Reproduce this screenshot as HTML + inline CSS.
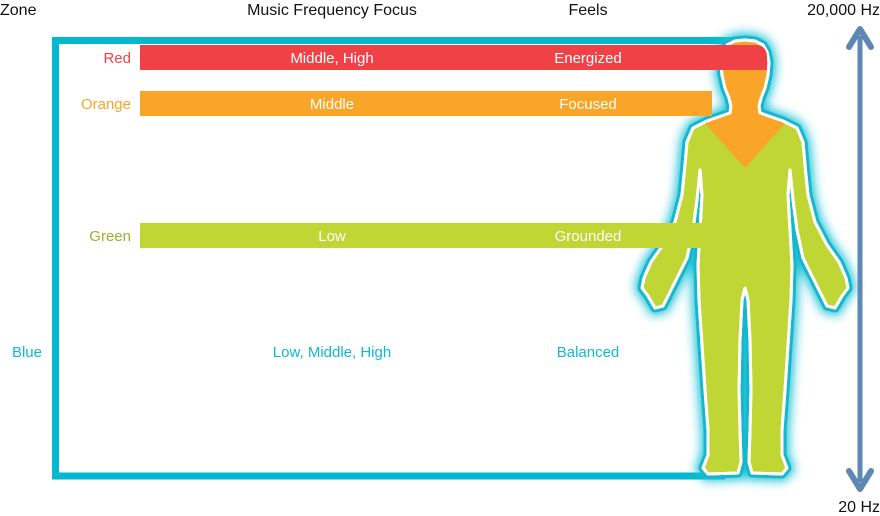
<!DOCTYPE html>
<html><head><meta charset="utf-8">
<style>
html,body{margin:0;padding:0;background:#fff;}
svg{display:block;font-family:"Liberation Sans",sans-serif;}
</style></head>
<body>
<svg id="chart" width="880" height="516" viewBox="0 0 880 516" xmlns="http://www.w3.org/2000/svg">
<defs>
<filter id="glow" x="-30%" y="-10%" width="160%" height="120%">
<feGaussianBlur stdDeviation="5"/>
</filter>
<clipPath id="bodyclip"><path id="bodypathc" d=""/></clipPath>
</defs>
<g id="headers">
<text x="0" y="15" font-size="16" fill="#111">Zone</text>
<text x="332" y="15" font-size="16" fill="#111" text-anchor="middle">Music Frequency Focus</text>
<text x="588" y="15" font-size="16" fill="#111" text-anchor="middle">Feels</text>
<text x="880" y="15" font-size="16" fill="#111" text-anchor="end">20,000 Hz</text>
<text x="880" y="512" font-size="16" fill="#111" text-anchor="end">20 Hz</text>
</g>
<path d="M738,40.5 H55.5 V476 H725" fill="none" stroke="#03b8cf" stroke-width="7"/>
<g id="body"></g>
<g id="rows"></g>
<g>
<line x1="860" y1="36" x2="860" y2="482" stroke="#5f87b4" stroke-width="5"/>
<path d="M849,47 L860,29 L871,47" fill="none" stroke="#5f87b4" stroke-width="6" stroke-linejoin="round" stroke-linecap="round"/>
<path d="M849,471 L860,489 L871,471" fill="none" stroke="#5f87b4" stroke-width="6" stroke-linejoin="round" stroke-linecap="round"/>
</g>
</svg>
<script>
const zones = ["Red","Orange","Green","Blue"];
const focus = ["Middle, High","Middle","Low","Low, Middle, High"];
const feels = ["Energized","Focused","Grounded","Balanced"];
const rowY = [58,104,236,352];
const colors = ["#ef4146","#f9a527","#c0d634","#0fb9cf"];
const labelColors = ["#ef4146","#f9a527","#9bb12a","#0fb9cf"];
const hasBar = [true,true,true,false];
const barEnd = [767,712,708,0];

const NS="http://www.w3.org/2000/svg";
function mk(t,a,p){const e=document.createElementNS(NS,t);for(const k in a)e.setAttribute(k,a[k]);p.appendChild(e);return e;}

const half=[[0,40],[10,41],[18,45],[22,52],[24,62],[23,75],[20,88],[16,98],[14,106],[15,113],[38,121],[52,128],[58,142],[60,165],[63,195],[70,222],[82,245],[94,262],[101,278],[103,288],[97,296],[90,308],[82,306],[76,294],[70,282],[58,258],[52,230],[48,200],[45,170],[43,195],[45,230],[47,265],[46,300],[43,345],[40,390],[37,430],[37,455],[42,468],[37,474],[7,473],[4,462],[5,430],[6,390],[5,340],[3,300],[0,288]];
const cx=745;
let pts=half.map(p=>[cx+p[0],p[1]]);
let left=half.slice().reverse().map(p=>[cx-p[0],p[1]]);
const all=pts.concat(left);
const d="M"+all.map(p=>p[0]+","+p[1]).join(" L")+" Z";
document.getElementById('bodypathc').setAttribute('d',d);
const bg=document.getElementById('body');
const glow=mk('path',{d:d,fill:"none",stroke:"#1cc3d8",'stroke-width':14,filter:"url(#glow)"},bg);


const outline=mk('path',{d:d,fill:"#16b7cd",stroke:"#16b7cd",'stroke-width':9,'stroke-linejoin':'round'},bg);


const wline=mk('path',{d:d,fill:"#c0d634",stroke:"#fff",'stroke-width':3,'stroke-linejoin':'round'},bg);


const og=mk('g',{'clip-path':'url(#bodyclip)'},bg);
const ov=mk('path',{d:"M650,30 H850 V118 L790,118 L745,168 L700,118 L650,118 Z",fill:"#f9a527"},og);


mk('path',{d:d,fill:"none",stroke:"#fff",'stroke-width':3,'stroke-linejoin':'round'},bg);

const rows=document.getElementById('rows');
zones.forEach((z,i)=>{
  const g=mk('g',{},rows);
  
  
  const y=rowY[i];
  if(hasBar[i]){
    const r=i===0?12:0;
    const x1=140,x2=barEnd[i],t=y-13,b=y+12;
    const bd=`M${x1},${t} H${x2-r} Q${x2},${t} ${x2},${t+r} V${b} H${x1} Z`;
    const bar=mk('path',{d:bd,fill:colors[i]},g);
    
    
  }
  const lab=mk('text',{x:hasBar[i]?131:42,y:y+5,'font-size':15,fill:labelColors[i],'text-anchor':'end'},g);
  lab.textContent=z;
  
  
  const tc=hasBar[i]?"#fff":colors[i];
  const f=mk('text',{x:332,y:y+5,'font-size':15,fill:tc,'text-anchor':'middle'},g);
  f.textContent=focus[i];
  
  
  const fe=mk('text',{x:588,y:y+5,'font-size':15,fill:tc,'text-anchor':'middle'},g);
  fe.textContent=feels[i];
  
  
});
</script>
</body></html>
